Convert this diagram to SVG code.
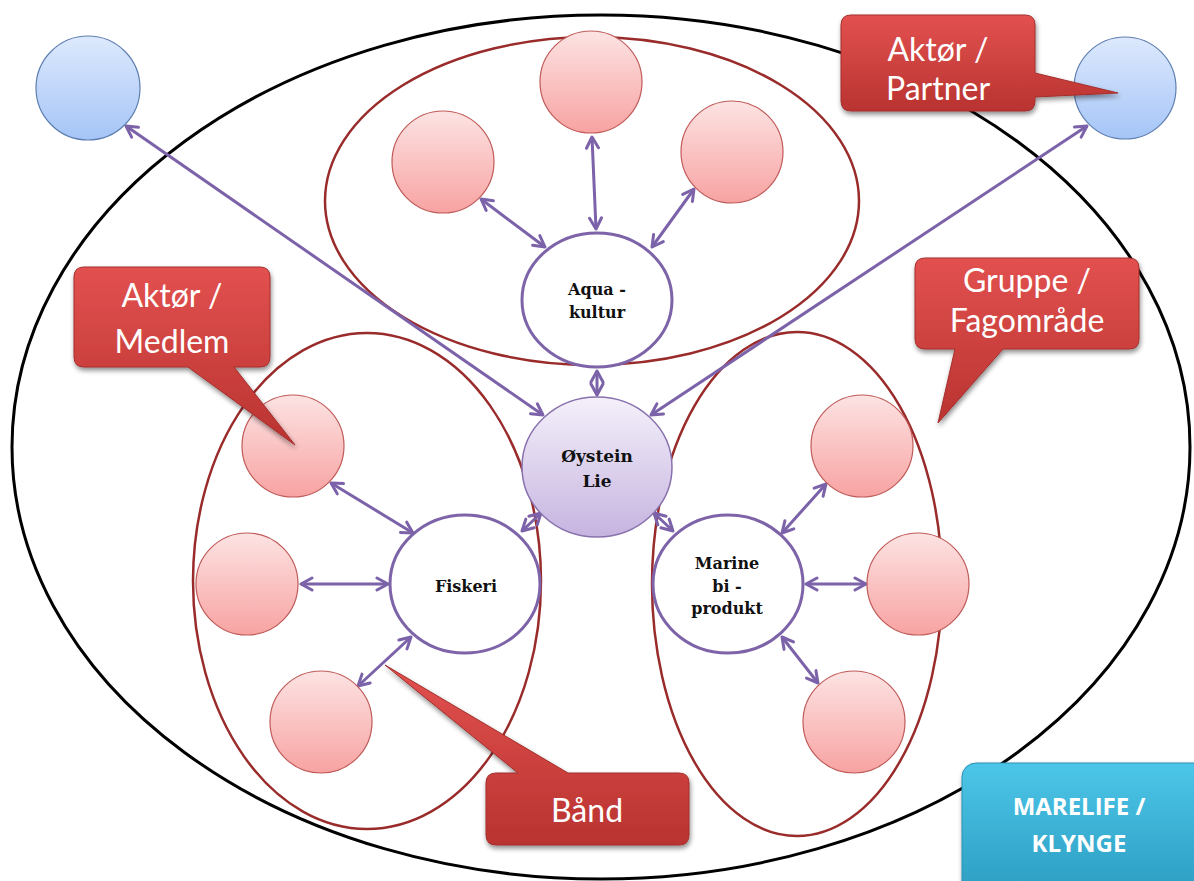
<svg xmlns="http://www.w3.org/2000/svg" width="1194" height="881" viewBox="0 0 1194 881">
  <defs>
    <linearGradient id="gPink" x1="0" y1="0" x2="0" y2="1">
      <stop offset="0" stop-color="#fde3e3"/>
      <stop offset="1" stop-color="#f7a3a2"/>
    </linearGradient>
    <linearGradient id="gBlue" x1="0" y1="0" x2="0" y2="1">
      <stop offset="0" stop-color="#dde9fd"/>
      <stop offset="1" stop-color="#a5c5f7"/>
    </linearGradient>
    <linearGradient id="gLav" x1="0" y1="0" x2="0" y2="1">
      <stop offset="0" stop-color="#f4f0fa"/>
      <stop offset="1" stop-color="#c6b4e0"/>
    </linearGradient>
    <linearGradient id="gRed" x1="0" y1="0" x2="0" y2="1">
      <stop offset="0" stop-color="#e2514f"/>
      <stop offset="1" stop-color="#b93330"/>
    </linearGradient>
    <linearGradient id="gTeal" x1="0" y1="0" x2="0" y2="1">
      <stop offset="0" stop-color="#4cc6e8"/>
      <stop offset="1" stop-color="#2a9bc0"/>
    </linearGradient>
    <filter id="shadow" x="-20%" y="-20%" width="140%" height="150%">
      <feGaussianBlur in="SourceAlpha" stdDeviation="2.5"/>
      <feOffset dx="1" dy="3" result="b"/>
      <feComponentTransfer><feFuncA type="linear" slope="0.45"/></feComponentTransfer>
      <feMerge><feMergeNode/><feMergeNode in="SourceGraphic"/></feMerge>
    </filter>
    <marker id="head" viewBox="-14 -8 16 16" markerWidth="16" markerHeight="16" refX="0" refY="0" orient="auto-start-reverse" markerUnits="userSpaceOnUse">
      <path d="M-11,-6 L0,0 L-11,6" fill="none" stroke="#7b62a9" stroke-width="3" stroke-linejoin="round" stroke-linecap="round"/>
    </marker>
  </defs>
  <style>
    .cluster { fill: none; stroke: #000; stroke-width: 3; }
    .band { fill: none; stroke: #9a2b2b; stroke-width: 2.5; }
    .pink { fill: url(#gPink); stroke: #bf5a58; stroke-width: 1.2; }
    .blue { fill: url(#gBlue); stroke: #5e7eb0; stroke-width: 1.2; }
    .group { fill: #fff; stroke: #7d63a8; stroke-width: 3; }
    .person { fill: url(#gLav); stroke: #8871ad; stroke-width: 1.5; }
    .link { fill: none; stroke: #7b62a9; stroke-width: 3; marker-start: url(#head); marker-end: url(#head); }
    .callout { fill: url(#gRed); stroke: #a32e2c; stroke-width: 1; filter: url(#shadow); }
    .ctext { font-family: Lato, "Open Sans", "Liberation Sans", sans-serif; font-size: 32px; fill: #fff; text-anchor: middle; }
    .ntext { font-family: "DejaVu Serif", "Liberation Serif", serif; font-weight: bold; font-size: 16px; fill: #111; text-anchor: middle; }
    .ttext { font-family: "Open Sans", "Liberation Sans", sans-serif; font-weight: bold; font-size: 24px; fill: #fff; text-anchor: middle; }
  </style>

  <!-- outer cluster boundary -->
  <ellipse id="marelife-ring" class="cluster" cx="601" cy="447" rx="589" ry="432"/>

  <!-- groups / bands -->
  <ellipse id="band-aqua" class="band" cx="592" cy="201" rx="267" ry="164"/>
  <ellipse id="band-fiskeri" class="band" cx="367" cy="581" rx="174" ry="248"/>
  <ellipse id="band-marine" class="band" cx="797" cy="584" rx="145" ry="252"/>

  <!-- connectors -->
  <g id="connectors">
    <line class="link" x1="592" y1="137" x2="596" y2="229"/>
    <line class="link" x1="481" y1="199" x2="545" y2="247"/>
    <line class="link" x1="694" y1="189" x2="652" y2="247"/>
    <line class="link" x1="597" y1="371" x2="597" y2="395"/>
    <line class="link" x1="126" y1="126" x2="543" y2="415"/>
    <line class="link" x1="1087" y1="126" x2="651" y2="415"/>
    <line class="link" x1="541" y1="513" x2="522" y2="531"/>
    <line class="link" x1="654" y1="513" x2="673" y2="531"/>
    <line class="link" x1="331" y1="483" x2="413" y2="533"/>
    <line class="link" x1="301" y1="584" x2="388" y2="584"/>
    <line class="link" x1="358" y1="686" x2="411" y2="637"/>
    <line class="link" x1="826" y1="484" x2="782" y2="533"/>
    <line class="link" x1="866" y1="584" x2="806" y2="584"/>
    <line class="link" x1="818" y1="683" x2="782" y2="637"/>
  </g>

  <!-- partner nodes -->
  <g id="partner-left"><circle class="blue" cx="88" cy="88" r="52"/></g>
  <g id="partner-right"><circle class="blue" cx="1125" cy="88" r="51"/></g>

  <!-- member nodes -->
  <g id="aqua-m1"><circle class="pink" cx="591" cy="82" r="51"/></g>
  <g id="aqua-m2"><circle class="pink" cx="443" cy="162" r="51"/></g>
  <g id="aqua-m3"><circle class="pink" cx="732" cy="152" r="51"/></g>
  <g id="fisk-m1"><circle class="pink" cx="293" cy="446" r="51"/></g>
  <g id="fisk-m2"><circle class="pink" cx="247" cy="584" r="51"/></g>
  <g id="fisk-m3"><circle class="pink" cx="321" cy="722" r="51"/></g>
  <g id="marine-m1"><circle class="pink" cx="862" cy="446" r="51"/></g>
  <g id="marine-m2"><circle class="pink" cx="918" cy="584" r="51"/></g>
  <g id="marine-m3"><circle class="pink" cx="854" cy="722" r="51"/></g>

  <!-- group nodes -->
  <g id="aquakultur">
    <ellipse class="group" cx="597" cy="300" rx="75" ry="67"/>
    <text class="ntext" x="597" y="295">Aqua -</text>
    <text class="ntext" x="597" y="318">kultur</text>
  </g>
  <g id="fiskeri">
    <ellipse class="group" cx="465" cy="584" rx="75" ry="69"/>
    <text class="ntext" x="466" y="592">Fiskeri</text>
  </g>
  <g id="marine">
    <ellipse class="group" cx="728" cy="584" rx="75" ry="69"/>
    <text class="ntext" x="727" y="569">Marine</text>
    <text class="ntext" x="727" y="592">bi -</text>
    <text class="ntext" x="727" y="614">produkt</text>
  </g>

  <!-- central person -->
  <g id="oystein-lie">
    <ellipse class="person" cx="597" cy="467" rx="75" ry="70"/>
    <text class="ntext" x="597" y="462" style="font-size:17px">Øystein</text>
    <text class="ntext" x="597" y="487" style="font-size:17px">Lie</text>
  </g>

  <!-- callouts -->
  <g id="callout-partner">
    <path class="callout" d="M851,15 H1025 Q1035,15 1035,25 V73 L1118,93 L1035,97 V101 Q1035,111 1025,111 H851 Q841,111 841,101 V25 Q841,15 851,15 Z"/>
    <text class="ctext" x="938" y="61">Aktør /</text>
    <text class="ctext" x="938" y="100">Partner</text>
  </g>
  <g id="callout-medlem">
    <path class="callout" d="M84,267 H260 Q270,267 270,277 V357 Q270,367 260,367 H234 L295,445 L188,367 H84 Q74,367 74,357 V277 Q74,267 84,267 Z"/>
    <text class="ctext" x="172" y="307">Aktør /</text>
    <text class="ctext" x="172" y="353">Medlem</text>
  </g>
  <g id="callout-gruppe">
    <path class="callout" d="M925,258 H1129 Q1139,258 1139,268 V339 Q1139,349 1129,349 H1003 L938,423 L955,349 H925 Q915,349 915,339 V268 Q915,258 925,258 Z"/>
    <text class="ctext" x="1027" y="292">Gruppe /</text>
    <text class="ctext" x="1027" y="332">Fagområde</text>
  </g>
  <g id="callout-band">
    <path class="callout" d="M496,773 H518 L385,665 L568,773 H679 Q689,773 689,783 V835 Q689,845 679,845 H496 Q486,845 486,835 V783 Q486,773 496,773 Z"/>
    <text class="ctext" x="587" y="822">Bånd</text>
  </g>

  <!-- cluster label -->
  <g id="marelife-label">
    <rect x="962" y="763" width="250" height="140" rx="14" fill="url(#gTeal)" stroke="#2a8fb2" stroke-width="1" filter="url(#shadow)"/>
    <text class="ttext" x="1079" y="815">MARELIFE /</text>
    <text class="ttext" x="1079" y="852">KLYNGE</text>
  </g>
</svg>
